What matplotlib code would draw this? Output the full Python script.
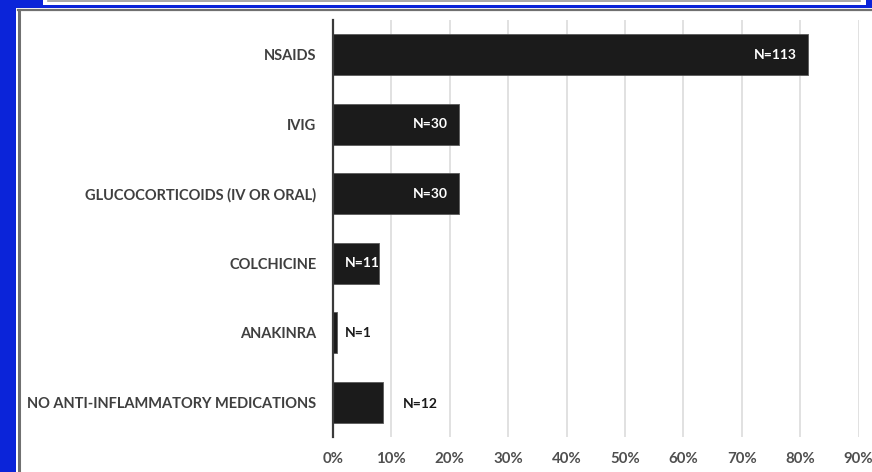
import matplotlib.pyplot as plt
from matplotlib.patches import Rectangle
from matplotlib.lines import Line2D
from matplotlib.ticker import PercentFormatter

# Anti-inflammatory treatment received (patients, n = 139)
treatments = [
    "NSAIDS",
    "IVIG",
    "GLUCOCORTICOIDS (IV OR ORAL)",
    "COLCHICINE",
    "ANAKINRA",
    "NO ANTI-INFLAMMATORY MEDICATIONS",
]
patients = [113, 30, 30, 11, 1, 12]
total_patients = 139
x_ticks = [0, 0.1, 0.2, 0.3, 0.4, 0.5, 0.6, 0.7, 0.8, 0.9]

share = [n / total_patients for n in patients]

W, H = 872, 472
fig = plt.figure(figsize=(W / 100, H / 100), dpi=100)
fig.patch.set_facecolor("#0b24d9")


def px_rect(x0, y0, x1, y1, **kw):
    # rectangle given in pixels from the top-left corner
    fig.patches.append(Rectangle((x0 / W, 1 - y1 / H), (x1 - x0) / W, (y1 - y0) / H,
                                 transform=fig.transFigure, zorder=-3, **kw))


def px_line(x0, y0, x1, y1, **kw):
    fig.lines.append(Line2D([x0 / W, x1 / W], [1 - y0 / H, 1 - y1 / H],
                            transform=fig.transFigure, zorder=-2, **kw))


# slide frame: header strip and white content panel
px_rect(43, -2, 866, 5, facecolor="white", edgecolor="none")
px_line(48, 1, 860, 1, color="#9a9a9a", lw=1.2)
px_rect(16, 8, W + 2, H + 2, facecolor="white", edgecolor="none")
px_line(19, 9.5, 19, H + 2, color="#707070", lw=2.2)
px_line(18, 9.5, W + 2, 9.5, color="#707070", lw=1.6)

ax = fig.add_axes([333 / W, 35 / H, 525.6 / W, 417 / H])
ax.set_facecolor("none")

ypos = list(range(len(treatments)))
ax.barh(ypos, share, height=0.59, color="#1b1b1b", edgecolor="#5a5a5a",
        linewidth=0.6, zorder=3)

ax.set_ylim(len(treatments) - 0.5, -0.5)
ax.set_xlim(0, 0.9)
ax.set_xticks(x_ticks)
ax.xaxis.set_major_formatter(PercentFormatter(1.0, decimals=0))
ax.set_yticks(ypos)
ax.set_yticklabels(treatments)

label_font = dict(family="Lato", weight="bold")
for lab in ax.get_yticklabels():
    lab.set_fontproperties(label_font)
    lab.set_fontsize(10.5)
    lab.set_color("#3f3f3f")
for lab in ax.get_xticklabels():
    lab.set_fontproperties(label_font)
    lab.set_fontsize(10.8)
    lab.set_color("#4f4f4f")

ax.tick_params(axis="y", length=0, pad=12)
ax.tick_params(axis="x", length=0, pad=11)
ax.grid(axis="x", color="#d9d9d9", linewidth=1.1, zorder=0)
ax.set_axisbelow(True)

for side in ("top", "right", "bottom"):
    ax.spines[side].set_visible(False)
ax.spines["left"].set_color("#3a3a3a")
ax.spines["left"].set_linewidth(1.6)
ax.spines["left"].set_zorder(4)

# count labels: inside the long bars, beside the short ones
for i, (n, s) in enumerate(zip(patients, share)):
    txt = f"N={n}"
    if s > 0.15:
        ax.annotate(txt, (s, i), xytext=(-11, 0), textcoords="offset pixels",
                    ha="right", va="center", color="white", fontsize=10,
                    zorder=5, **label_font)
    elif s > 0.05 and i == 3:
        ax.annotate(txt, (0, i), xytext=(12, 0), textcoords="offset pixels",
                    ha="left", va="center", color="white", fontsize=10,
                    zorder=5, **label_font)
    elif s < 0.05:
        ax.annotate(txt, (0, i), xytext=(12, 0), textcoords="offset pixels",
                    ha="left", va="center", color="#1a1a1a", fontsize=10,
                    zorder=5, **label_font)
    else:
        ax.annotate(txt, (s, i), xytext=(19, -2), textcoords="offset pixels",
                    ha="left", va="center", color="#1a1a1a", fontsize=10,
                    zorder=5, **label_font)

fig.savefig("out.png", dpi=100, facecolor=fig.get_facecolor())
